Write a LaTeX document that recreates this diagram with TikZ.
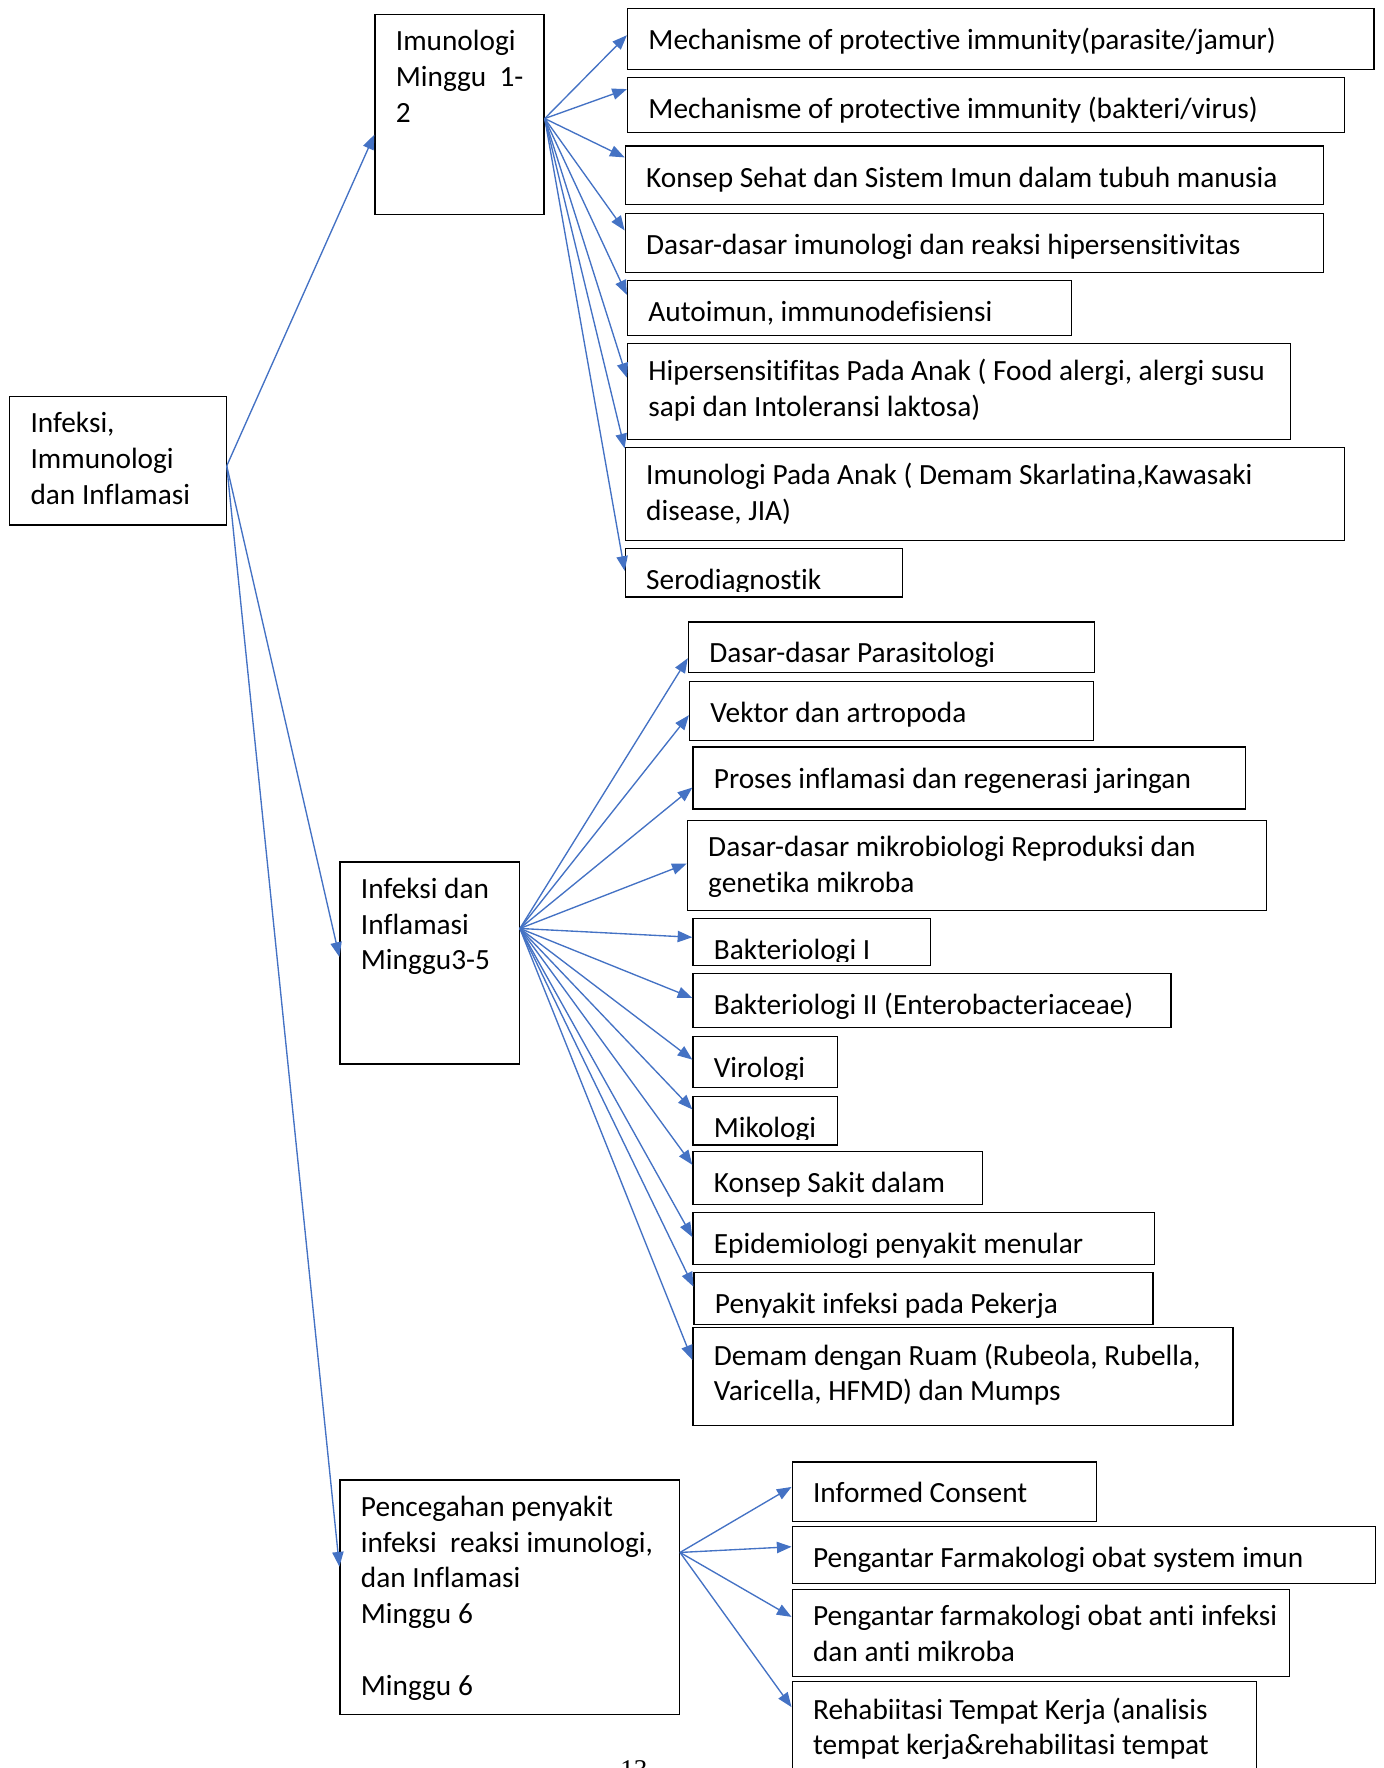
\documentclass[tikz,border=0pt]{standalone}
\usepackage{fontspec}
\setmainfont{Carlito}[Ligatures=NoCommon]
\newfontfamily\pagefont{Liberation Serif}
\usetikzlibrary{arrows.meta,calc}
\definecolor{linkblue}{RGB}{68,114,196}

\begin{document}
\begin{tikzpicture}[x=1pt, y=-1pt,
  boxtext/.style={anchor=north west, align=left, inner sep=0pt,
    minimum width=0pt, minimum height=0pt, execute at begin node=\strut,
    font=\fontsize{26}{31.8}\selectfont},
  box/.style={draw, line width=1.1pt, anchor=north west, inner sep=0pt,
    path picture={\node[boxtext] at ([shift={(18pt,-13.5pt)}]path picture bounding box.north west) {#1};}},
  cutbox/.style={draw, line width=1.1pt, anchor=north west, inner sep=0pt,
    path picture={\clip (path picture bounding box.north west) rectangle ([yshift=-38pt]path picture bounding box.north east);
      \node[boxtext] at ([shift={(18pt,-13.5pt)}]path picture bounding box.north west) {#1};}},
  link/.style={draw=linkblue, line width=1.2pt, -{Triangle[length=13pt,width=10pt]}}
]
\useasboundingbox (0,0) rectangle (1227,1568);
\clip (0,0) rectangle (1227,1568);

% main column
\node[box={Infeksi,\\Immunologi\\dan Inflamasi}, minimum width=192, minimum height=114] (root) at (8,351) {};
\node[box={Imunologi\\Minggu~~1-\\2}, minimum width=150, minimum height=178] (im) at (332,12) {};
\node[box={Infeksi dan\\Inflamasi\\Minggu3-5}, minimum width=159, minimum height=179] (inf) at (301,764) {};
\node[box={Pencegahan penyakit\\infeksi~ reaksi imunologi,\\dan Inflamasi\\Minggu 6\\\mbox{}\\Minggu 6}, minimum width=301, minimum height=208] (pen) at (301,1312) {};

% minggu 1-2
\node[box={Mechanisme of protective immunity(parasite/jamur)}, minimum width=662, minimum height=54] (a1) at (556,7) {};
\node[box={Mechanisme of protective immunity (bakteri/virus)}, minimum width=636, minimum height=49] (a2) at (556,68) {};
\node[box={Konsep Sehat dan Sistem Imun dalam tubuh manusia}, minimum width=619, minimum height=52] (a3) at (554,129) {};
\node[box={Dasar-dasar imunologi dan reaksi hipersensitivitas}, minimum width=619, minimum height=52] (a4) at (554,189) {};
\node[box={Autoimun, immunodefisiensi}, minimum width=394, minimum height=49] (a5) at (556,248) {};
\node[box={Hipersensitifitas Pada Anak ( Food alergi, alergi susu\\sapi dan Intoleransi laktosa)}, minimum width=588, minimum height=85] (a6) at (556,304) {};
\node[box={Imunologi Pada Anak ( Demam Skarlatina,Kawasaki\\disease, JIA)}, minimum width=638, minimum height=83] (a7) at (554,396) {};
\node[cutbox={Serodiagnostik}, minimum width=246, minimum height=43] (a8) at (554,486) {};

% minggu 3-5
\node[box={Dasar-dasar Parasitologi}, minimum width=360, minimum height=45] (b1) at (610,551) {};
\node[box={Vektor dan artropoda}, minimum width=358, minimum height=52] (b2) at (611,604) {};
\node[box={Proses inflamasi dan regenerasi jaringan}, minimum width=490, minimum height=55] (b3) at (614,662) {};
\node[box={Dasar-dasar mikrobiologi Reproduksi dan\\genetika mikroba}, minimum width=514, minimum height=80] (b4) at (609,727) {};
\node[cutbox={Bakteriologi I}, minimum width=211, minimum height=42] (b5) at (614,814) {};
\node[box={Bakteriologi II (Enterobacteriaceae)}, minimum width=424, minimum height=48] (b6) at (614,863) {};
\node[cutbox={Virologi}, minimum width=128, minimum height=45] (b7) at (614,919) {};
\node[cutbox={Mikologi}, minimum width=128, minimum height=43] (b8) at (614,972) {};
\node[box={Konsep Sakit dalam}, minimum width=257, minimum height=47] (b9) at (614,1021) {};
\node[box={Epidemiologi penyakit menular}, minimum width=409, minimum height=46] (b10) at (614,1075) {};
\node[box={Penyakit infeksi pada Pekerja}, minimum width=407, minimum height=46] (b11) at (615,1128) {};
\node[box={Demam dengan Ruam (Rubeola, Rubella,\\Varicella, HFMD) dan Mumps}, minimum width=479, minimum height=87] (b12) at (614,1177) {};

% minggu 6
\node[box={Informed Consent}, minimum width=270, minimum height=53] (c1) at (702,1296) {};
\node[box={Pengantar Farmakologi obat system imun}, minimum width=517, minimum height=51] (c2) at (702,1353) {};
\node[box={Pengantar farmakologi obat anti infeksi\\dan anti mikroba}, minimum width=441, minimum height=77] (c3) at (702,1409) {};
\node[box={Rehabiitasi Tempat Kerja (analisis\\tempat kerja\&rehabilitasi tempat}, minimum width=412, minimum height=120] (c4) at (702,1491) {};

\node[anchor=base west, inner sep=0pt, font=\pagefont\fontsize{24}{28}\selectfont] (page) at (550,1577) {13};

% fan-out points
\coordinate (rootout) at ($(root.north east)!.54!(root.south east)$);
\coordinate (imout) at ($(im.north east)!.52!(im.south east)$);
\coordinate (infout) at ($(inf.north east)!.33!(inf.south east)$);
\coordinate (penout) at ($(pen.north east)!.31!(pen.south east)$);

\draw[link] (rootout) -- ($(im.north west)!.6!(im.south west)$);
\draw[link] (rootout) -- ($(inf.north west)!.47!(inf.south west)$);
\draw[link] (rootout) -- ($(pen.north west)!.37!(pen.south west)$);

\draw[link] (imout) -- ($(a1.north west)!.44!(a1.south west)$);
\draw[link] (imout) -- ($(a2.north west)!.22!(a2.south west)$);
\draw[link] (imout) -- ($(a3.north west)!.2!(a3.south west)$);
\draw[link] (imout) -- ($(a4.north west)!.29!(a4.south west)$);
\draw[link] (imout) -- ($(a5.north west)!.27!(a5.south west)$);
\draw[link] (imout) -- ($(a6.north west)!.36!(a6.south west)$);
\draw[link] (imout) -- ($(a7.north west)!.02!(a7.south west)$);
\draw[link] (imout) -- ($(a8.north west)!.46!(a8.south west)$);

\draw[link] (infout) -- ($(b1.north west)!.71!(b1.south west)$);
\draw[link] (infout) -- ($(b2.north west)!.57!(b2.south west)$);
\draw[link] (infout) -- ($(b3.north west)!.65!(b3.south west)$);
\draw[link] (infout) -- ($(b4.north west)!.48!(b4.south west)$);
\draw[link] (infout) -- ($(b5.north west)!.4!(b5.south west)$);
\draw[link] (infout) -- ($(b6.north west)!.45!(b6.south west)$);
\draw[link] (infout) -- ($(b7.north west)!.45!(b7.south west)$);
\draw[link] (infout) -- ($(b8.north west)!.27!(b8.south west)$);
\draw[link] (infout) -- ($(b9.north west)!.25!(b9.south west)$);
\draw[link] (infout) -- ($(b10.north west)!.47!(b10.south west)$);
\draw[link] (infout) -- ($(b11.north west)!.28!(b11.south west)$);
\draw[link] (infout) -- ($(b12.north west)!.33!(b12.south west)$);

\draw[link] (penout) -- ($(c1.north west)!.42!(c1.south west)$);
\draw[link] (penout) -- ($(c2.north west)!.36!(c2.south west)$);
\draw[link] (penout) -- ($(c3.north west)!.32!(c3.south west)$);
\draw[link] (penout) -- ($(c4.north west)!.19!(c4.south west)$);
\end{tikzpicture}
\end{document}
